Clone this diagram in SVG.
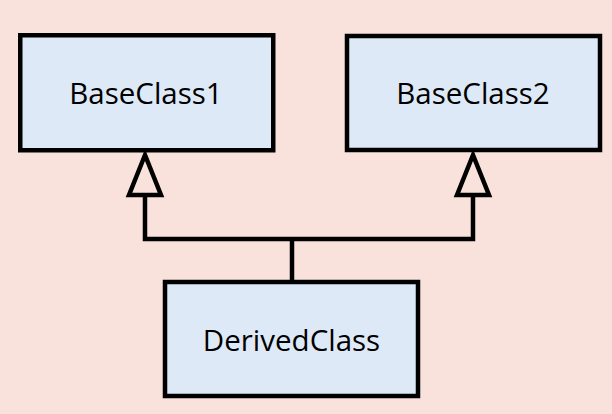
<svg xmlns="http://www.w3.org/2000/svg" width="612" height="414" viewBox="0 0 612 414">
<style>
.box{fill:#DDE9F6;stroke:#000;stroke-width:4.5}
.lbl{font-family:"Open Sans","Noto Sans",sans-serif;font-size:29.5px;fill:#000;text-anchor:middle}
.conn{fill:none;stroke:#000;stroke-width:4.5}
.tri{fill:#F9E2DC;stroke:#000;stroke-width:4.5;stroke-linejoin:miter}
</style>
<rect width="612" height="414" fill="#F9E2DC"/>
<g id="connectors">
<polyline class="conn" points="145,195 145,239 473,239 473,195"/>
<line class="conn" x1="292" y1="239" x2="292" y2="280"/>
<polygon class="tri" points="145,155 129,195 161,195"/>
<polygon class="tri" points="473,155 457,195 489,195"/>
</g>
<g id="BaseClass1">
<rect class="box" x="20.25" y="35.25" width="253" height="115"/>
<text class="lbl" x="146" y="103.5">BaseClass1</text>
</g>
<g id="BaseClass2">
<rect class="box" x="347" y="36" width="253" height="114"/>
<text class="lbl" x="473" y="103.5">BaseClass2</text>
</g>
<g id="DerivedClass">
<rect class="box" x="165" y="282" width="253" height="114"/>
<text class="lbl" x="291.5" y="350.5">DerivedClass</text>
</g>
</svg>
